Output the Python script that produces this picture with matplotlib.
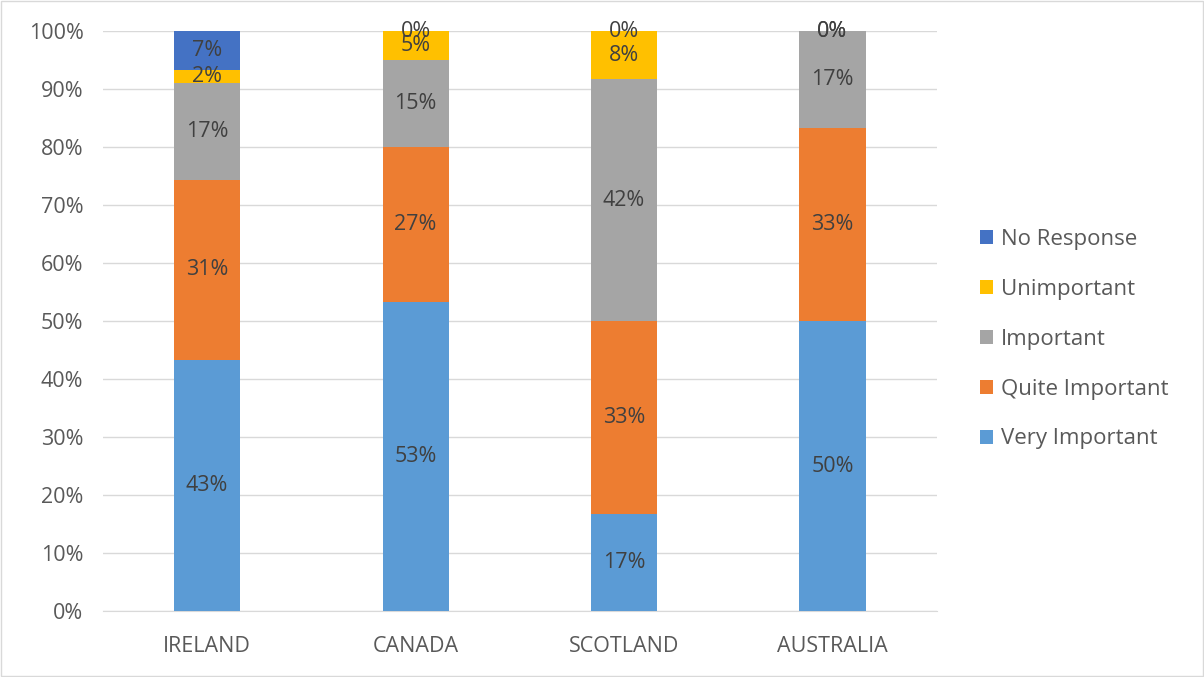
import matplotlib
matplotlib.use("Agg")
import matplotlib.pyplot as plt
import numpy as np

## data
countries = ["IRELAND", "CANADA", "SCOTLAND", "AUSTRALIA"]
series_names = ["Very Important", "Quite Important", "Important", "Unimportant", "No Response"]
very_important = [43.3, 53.3, 16.7, 50.0]
quite_important = [31.1, 26.7, 33.3, 33.3]
important = [16.7, 15.0, 41.7, 16.7]
unimportant = [2.2, 5.0, 8.3, 0.0]
no_response = [6.7, 0.0, 0.0, 0.0]
colors = ["#5b9bd5", "#ed7d31", "#a5a5a5", "#ffc000", "#4472c4"]

## figure
plt.rcParams['font.family'] = ['Open Sans', 'DejaVu Sans']
fig = plt.figure(figsize=(12.04, 6.77), dpi=100)
ax = fig.add_axes([0.0855, 0.0975, 0.6925, 0.8565])

x = np.arange(len(countries))
bottom = np.zeros(len(countries))
handles = []
for name, vals, col in zip(series_names,
                           [very_important, quite_important, important, unimportant, no_response],
                           colors):
    vals = np.array(vals)
    h = ax.bar(x, vals, 0.317, bottom=bottom, color=col, label=name, zorder=3)
    handles.append(h)
    for xi, b, v in zip(x, bottom, vals):
        ax.text(xi, b + v / 2, "%d%%" % round(v), ha='center', va='center',
                fontsize=15.5, color='#404040', zorder=4)
    bottom = bottom + vals

## axes styling
ax.set_xlim(-0.5, 3.5)
ax.set_ylim(0, 100)
ax.set_yticks(np.arange(0, 101, 10))
ax.set_yticklabels(["%d%%" % t for t in range(0, 101, 10)])
ax.set_xticks(x)
ax.set_xticklabels(countries)
ax.tick_params(axis='both', length=0, labelsize=15.5, colors='#595959')
ax.tick_params(axis='x', pad=18)
ax.tick_params(axis='y', pad=14)
ax.grid(axis='y', color='#d9d9d9', linewidth=1, zorder=0)
for s in ['top', 'right', 'left']:
    ax.spines[s].set_visible(False)
ax.spines['bottom'].set_color('#d9d9d9')

## legend
leg = fig.legend(handles[::-1], series_names[::-1], loc='center left',
                 bbox_to_anchor=(0.797, 0.499), frameon=False, fontsize=16,
                 labelspacing=1.3, handlelength=0.6, handleheight=0.6,
                 handletextpad=0.35)
for t in leg.get_texts():
    t.set_color('#595959')

## border
fig.patches.append(plt.Rectangle((0.001, 0.001), 0.998, 0.998, transform=fig.transFigure,
                                 fill=False, edgecolor='#d9d9d9', linewidth=1))

fig.savefig("out.png", dpi=100)
